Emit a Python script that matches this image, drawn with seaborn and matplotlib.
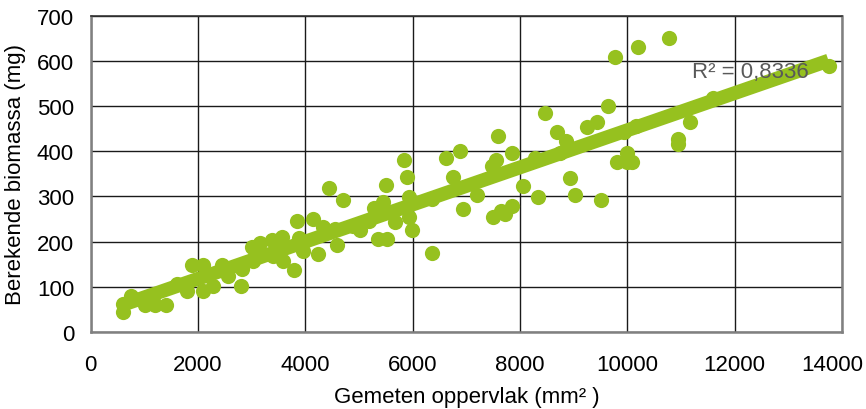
import matplotlib
matplotlib.use("Agg")
import matplotlib.pyplot as plt
import matplotlib.transforms as mtransforms
import seaborn as sns
import pandas as pd
import numpy as np

# Measured surface area (mm²)
oppervlak = [608, 608, 746, 1012, 1167, 1199, 1404, 1614, 1789, 1883,
             2099, 2099, 2285, 2442, 2565, 2796, 3001, 3156, 3374, 3560,
             3404, 3590, 3790, 3851, 3888, 3963, 4138, 4231, 4324, 4448,
             4554, 4585, 4708, 4895, 5020, 5193, 5281, 5361, 5454, 5504,
             5517, 5672, 5840, 5890, 5939, 5939, 5983, 6362, 6356, 6623,
             6884, 6759, 6934, 7195, 7475, 7504, 7598, 7555, 7847, 7642,
             7723, 7847, 8064, 8282, 8332, 8468, 8686, 8748, 8860, 8934,
             9027, 9245, 9432, 9506, 9648, 9805, 9941, 9991, 9991, 10084,
             10164, 9773, 10207, 10780, 10953, 10953, 11171, 11605, 13749,
             2815, 3031]
# Calculated biomass (mg)
biomassa = [45, 62, 79, 60, 77, 60, 60, 106, 91, 148,
            148, 91, 102, 148, 125, 102, 189, 196, 204, 211,
            169, 158, 138, 246, 209, 180, 251, 173, 232, 318,
            228, 192, 293, 234, 226, 246, 274, 206, 288, 325,
            206, 243, 381, 344, 298, 254, 226, 174, 294, 386,
            401, 344, 272, 302, 368, 254, 433, 381, 397, 268,
            261, 278, 324, 386, 298, 484, 443, 397, 423, 340,
            303, 453, 464, 293, 499, 377, 442, 397, 377, 377,
            455, 609, 630, 650, 427, 416, 464, 517, 589,
            139, 158]

x_ticks = [0, 2000, 4000, 6000, 8000, 10000, 12000, 14000]
y_ticks = [0, 100, 200, 300, 400, 500, 600, 700]
x_label = "Gemeten oppervlak (mm² )"
y_label = "Berekende biomassa (mg)"
r2_text = "R² = 0,8336"

df = pd.DataFrame({"oppervlak": oppervlak, "biomassa": biomassa})

sns.set_style("white")
plt.rcParams["font.family"] = ["Liberation Sans", "DejaVu Sans"]
plt.rcParams["text.color"] = "black"
plt.rcParams["axes.labelcolor"] = "black"
plt.rcParams["xtick.color"] = "black"
plt.rcParams["ytick.color"] = "black"

green = "#96C11F"

fig = plt.figure(figsize=(8.66, 4.10), dpi=100)
ax = fig.add_axes([0.1047, 0.1878, 0.8676, 0.7717])

sns.regplot(data=df, x="oppervlak", y="biomassa", ax=ax, ci=None,
            color=green,
            scatter_kws={"s": 120, "linewidths": 0, "alpha": 1, "zorder": 3},
            line_kws={"lw": 10, "solid_capstyle": "butt", "zorder": 4})

ax.set_xlim(0, 14000)
ax.set_ylim(0, 700)
ax.set_xticks(x_ticks)
ax.set_yticks(y_ticks)
ax.set_xticklabels([str(v) for v in x_ticks])
ax.set_yticklabels([str(v) for v in y_ticks])

ax.grid(True, color="#1a1a1a", lw=1.0)
ax.set_axisbelow(True)
for side in ["left", "bottom", "right"]:
    ax.spines[side].set_color("#808080")
    ax.spines[side].set_linewidth(1.8)
ax.spines["top"].set_color("#333333")
ax.spines["top"].set_linewidth(1.2)

ax.tick_params(axis="x", length=4, color="#808080", width=1.2, pad=12,
               labelsize=16, labelcolor="black")
ax.tick_params(axis="y", length=0, pad=12, labelsize=16, labelcolor="black")

# keep the last x tick label inside the figure, as in the reference
last = ax.get_xticklabels()[-1]
last.set_transform(last.get_transform() +
                   mtransforms.ScaledTranslation(-10 / 100, 0, fig.dpi_scale_trans))

ax.set_xlabel(x_label, fontsize=16, labelpad=8, color="black")
ax.set_ylabel(y_label, fontsize=16, labelpad=8, color="black")

ax.text(11208, 576, r2_text, fontsize=16, color="#595959",
        ha="left", va="center", zorder=5)

fig.savefig("out.png", dpi=100)
